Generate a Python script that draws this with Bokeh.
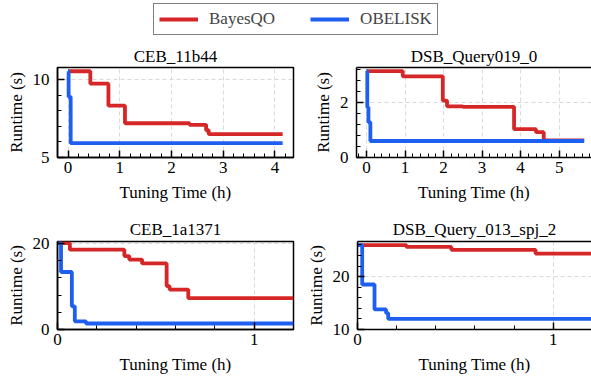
from bokeh.plotting import figure
from bokeh.layouts import column, row
from bokeh.models import Range1d, FixedTicker, Legend, LegendItem, LinearAxis
from bokeh.embed import file_html
from bokeh.resources import INLINE

FONT = "'Liberation Serif', serif"
RED = "#d62728"
BLUE = "#1f5ff0"

# ---------------- data ----------------
ceb11_bayes_t = [0, 0.43, 0.78, 1.10, 2.35, 2.67, 2.72, 4.15]
ceb11_bayes_y = [10.54, 9.74, 8.33, 7.20, 7.10, 6.75, 6.50, 6.50]
ceb11_obel_t = [0, 0.01, 0.05, 4.15]
ceb11_obel_y = [10.54, 8.90, 5.92, 5.92]

dsb19_bayes_t = [0, 0.94, 1.98, 2.09, 2.50, 3.83, 4.40, 4.60, 5.65]
dsb19_bayes_y = [3.14, 2.95, 2.07, 1.86, 1.84, 1.03, 0.92, 0.62, 0.62]
dsb19_obel_t = [0, 0.02, 0.05, 0.10, 5.65]
dsb19_obel_y = [3.14, 1.83, 1.28, 0.60, 0.60]

ceb1a_bayes_t = [0, 0.063, 0.34, 0.365, 0.43, 0.555, 0.57, 0.665, 1.2]
ceb1a_bayes_y = [20.1, 18.6, 17.1, 16.3, 15.4, 10.1, 9.3, 7.3, 7.3]
ceb1a_obel_t = [0, 0.018, 0.073, 0.088, 0.145, 1.2]
ceb1a_obel_y = [20.1, 13.4, 5.4, 1.9, 1.4, 1.4]

dsb13_bayes_t = [0, 0.25, 0.48, 0.91, 1.2]
dsb13_bayes_y = [25.95, 25.6, 25.06, 24.35, 24.35]
dsb13_obel_t = [0, 0.024, 0.087, 0.146, 0.157, 1.2]
dsb13_obel_y = [25.95, 18.5, 13.8, 13.1, 12.0, 12.0]

# tick labels
ceb11_xticks = [0, 1, 2, 3, 4]
ceb11_yticks = [5, 10]
dsb19_xticks = [0, 1, 2, 3, 4, 5]
dsb19_yticks = [0, 2]
ceb1a_xticks = [0, 1]
ceb1a_yticks = [0, 20]
dsb13_xticks = [0, 1]
dsb13_yticks = [10, 20]

titles = ["CEB_11b44", "DSB_Query019_0", "CEB_1a1371", "DSB_Query_013_spj_2"]
series_names = ["BayesQO", "OBELISK"]


def minor(lo, hi, step, majors):
    out = []
    k = 0
    while True:
        v = round(lo + k * step, 6)
        if v > hi:
            break
        if all(abs(v - m) > 1e-9 for m in majors):
            out.append(v)
        k += 1
    return out


def style_axis(ax):
    ax.axis_line_width = 1.5
    ax.axis_line_color = "black"
    ax.major_tick_in = 7
    ax.major_tick_out = 0
    ax.minor_tick_in = 4
    ax.minor_tick_out = 0
    ax.major_tick_line_width = 1.5
    ax.minor_tick_line_width = 1
    ax.major_tick_line_color = "black"
    ax.minor_tick_line_color = "black"
    ax.major_label_text_font = FONT
    ax.major_label_text_font_size = "17px"
    ax.major_label_text_color = "black"
    ax.axis_label_text_font = FONT
    ax.axis_label_text_font_size = "17px"
    ax.axis_label_text_font_style = "normal"
    ax.axis_label_text_color = "black"


def panel(title, w, h, bl, br, bt, bb, tstand, xr, yr, xt, xmin, yt, ymin,
          bx, byv, ox, oyv, right_open):
    p = figure(width=w, height=h, output_backend="svg", toolbar_location=None,
               x_range=Range1d(*xr), y_range=Range1d(*yr),
               min_border_left=bl, min_border_right=br,
               min_border_top=bt, min_border_bottom=bb,
               background_fill_color="white", border_fill_color="white")
    p.title.text = title
    p.title.align = "center"
    p.title.text_font = FONT
    p.title.text_font_size = "17px"
    p.title.text_font_style = "normal"
    p.title.text_color = "black"
    p.title.standoff = tstand
    p.xaxis.ticker = FixedTicker(ticks=xt, minor_ticks=xmin)
    p.yaxis.ticker = FixedTicker(ticks=yt, minor_ticks=ymin)
    p.xaxis.axis_label = "Tuning Time (h)"
    p.yaxis.axis_label = "Runtime (s)"
    style_axis(p.xaxis[0])
    style_axis(p.yaxis[0])
    p.xaxis.major_label_standoff = 4
    p.xaxis.axis_label_standoff = 7
    p.yaxis.major_label_standoff = 8
    p.yaxis.axis_label_standoff = 4
    p.grid.grid_line_color = "#d9d9d9"
    p.grid.grid_line_dash = "4 3"
    p.grid.grid_line_width = 1
    if right_open:
        p.outline_line_color = None
        top = LinearAxis(ticker=FixedTicker(ticks=[]), axis_line_width=1.5,
                         axis_line_color="black", major_label_text_font_size="0px")
        p.add_layout(top, "above")
    else:
        p.outline_line_color = "black"
        p.outline_line_width = 1.5
        p.outline_line_alpha = 1
    p.step(bx, byv, mode="after", color=RED, line_width=3.8)
    p.step(ox, oyv, mode="after", color=BLUE, line_width=3.8)
    return p


p1 = panel(titles[0], 300, 169, 57, 7, 26, 52, 3, (-0.205, 4.36), (5, 10.78),
           ceb11_xticks, minor(-0.2, 4.36, 0.2, ceb11_xticks),
           ceb11_yticks, minor(5, 10.78, 1, ceb11_yticks),
           ceb11_bayes_t, ceb11_bayes_y, ceb11_obel_t, ceb11_obel_y, False)
p2 = panel(titles[1], 291, 169, 56, 0, 27, 52, 3, (-0.26, 5.84), (0, 3.27),
           dsb19_xticks, minor(-0.2, 5.84, 0.2, dsb19_xticks),
           dsb19_yticks, minor(0, 3.27, 0.4, dsb19_yticks),
           dsb19_bayes_t, dsb19_bayes_y, dsb19_obel_t, dsb19_obel_y, True)
p3 = panel(titles[2], 300, 170, 57, 7, 32, 50, 5, (0, 1.2), (0, 20.5),
           ceb1a_xticks, minor(0, 1.2, 0.2, ceb1a_xticks),
           ceb1a_yticks, minor(0, 20.5, 4, ceb1a_yticks),
           ceb1a_bayes_t, ceb1a_bayes_y, ceb1a_obel_t, ceb1a_obel_y, False)
p4 = panel(titles[3], 291, 170, 57, 0, 30, 50, 5, (0, 1.196), (10, 26.63),
           dsb13_xticks, minor(0, 1.196, 0.2, dsb13_xticks),
           dsb13_yticks, minor(10, 26.63, 2, dsb13_yticks),
           dsb13_bayes_t, dsb13_bayes_y, dsb13_obel_t, dsb13_obel_y, True)

# legend strip
lf = figure(width=591, height=40, output_backend="svg", toolbar_location=None,
            x_range=Range1d(0, 1), y_range=Range1d(0, 1),
            x_axis_location=None, y_axis_location=None, min_border=0)
lf.grid.visible = False
lf.outline_line_color = None
r1 = lf.line([2, 3], [2, 2], color=RED, line_width=3.8)
r2 = lf.line([2, 3], [2, 2], color=BLUE, line_width=3.8)
leg = Legend(items=[LegendItem(label=series_names[0], renderers=[r1]),
                    LegendItem(label=series_names[1], renderers=[r2])],
             orientation="horizontal", location=(153, 5), margin=0,
             padding=5, spacing=35, label_standoff=11, glyph_width=39,
             glyph_height=20, label_height=20,
             label_text_font=FONT, label_text_font_size="17px",
             border_line_color="black", border_line_width=1.5,
             background_fill_color="white", background_fill_alpha=1)
lf.add_layout(leg)

layout = column(lf, row(p1, p2), row(p3, p4), spacing=0)
open("out.html", "w").write(file_html(layout, INLINE))
